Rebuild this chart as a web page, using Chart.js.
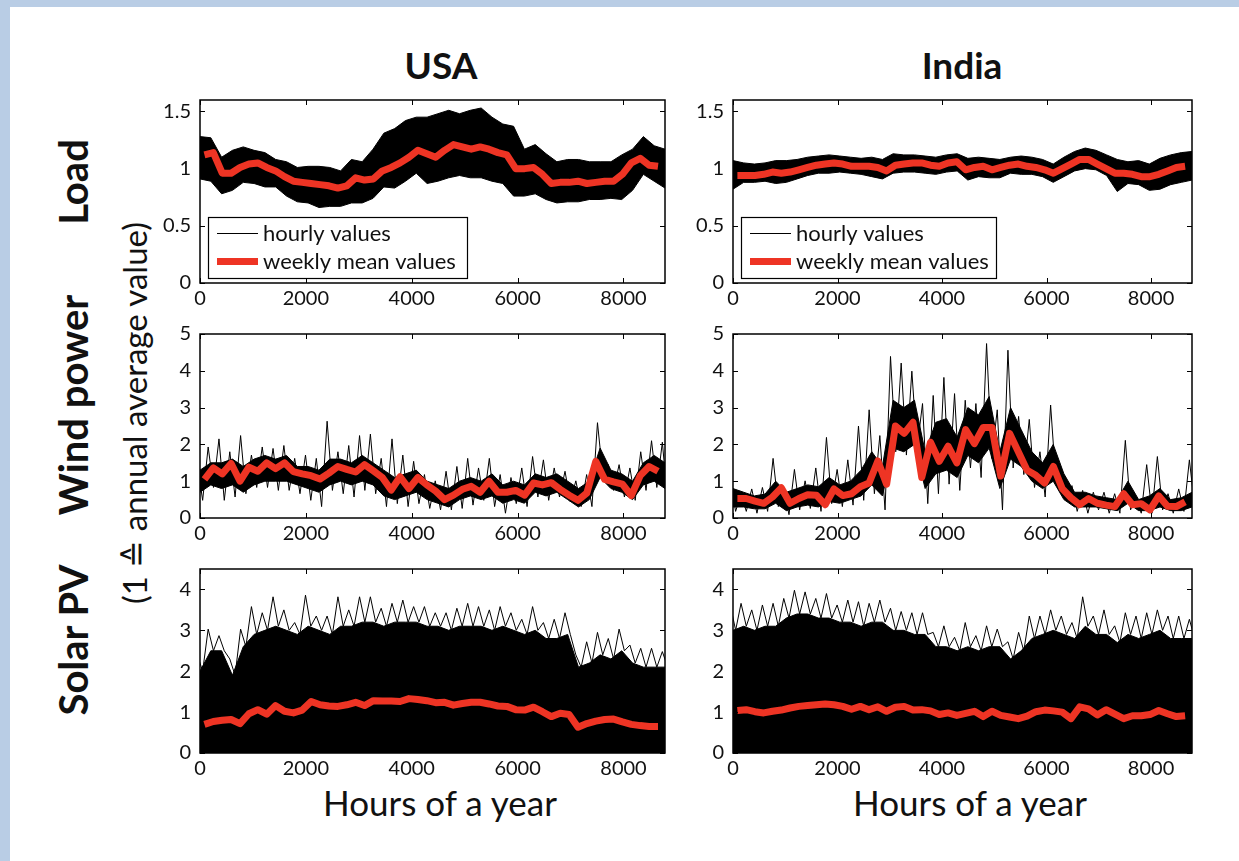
<!DOCTYPE html>
<html>
<head>
<meta charset="utf-8">
<script src="https://cdn.jsdelivr.net/npm/chart.js@4.4.1/dist/chart.umd.min.js"></script>
<style>
  html, body { margin: 0; padding: 0; background: #fff; }
  #page { position: relative; width: 1239px; height: 861px; overflow: hidden; background: #fff; font-family: Lato, sans-serif; color: #111; }
  .band-top { position: absolute; left: 0; top: 0; width: 1239px; height: 7px; background: #b9cde5; }
  .band-left { position: absolute; left: 0; top: 0; width: 10px; height: 861px; background: #b9cde5; }
  canvas { position: absolute; }
  .lbl { position: absolute; white-space: nowrap; transform: translate(-50%, -50%); line-height: 1; }
  .rot { transform: translate(-50%, -50%) rotate(-90deg); }
  .title { font-weight: 700; font-size: 37px; }
  .row { font-weight: 700; font-size: 40px; }
  .axis { font-size: 35px; }
</style>
</head>
<body>
<div id="page">
  <div class="band-top"></div>
  <div class="band-left"></div>

  <div class="lbl title" style="left:441px; top:64px;">USA</div>
  <div class="lbl title" style="left:962px; top:64px;">India</div>

  <div class="lbl row rot" style="left:73px; top:182px;">Load</div>
  <div class="lbl row rot" style="left:73px; top:405px;">Wind power</div>
  <div class="lbl row rot" style="left:73px; top:640px;">Solar PV</div>
  <div class="lbl axis rot" style="left:134px; top:413px; font-size:33px;">(1 ≙ annual average value)</div>

  <div class="lbl axis" style="left:440px; top:802px;">Hours of a year</div>
  <div class="lbl axis" style="left:970px; top:802px;">Hours of a year</div>

  <canvas id="usaLoad" width="540" height="239" style="left:140px; top:79px;"></canvas>
  <canvas id="indiaLoad" width="534" height="239" style="left:673px; top:79px;"></canvas>
  <canvas id="usaWind" width="540" height="240" style="left:140px; top:313px;"></canvas>
  <canvas id="indiaWind" width="534" height="240" style="left:673px; top:313px;"></canvas>
  <canvas id="usaSolar" width="540" height="240" style="left:140px; top:548px;"></canvas>
  <canvas id="indiaSolar" width="534" height="240" style="left:673px; top:548px;"></canvas>
</div>

<script>
// tick labels
const xTicks = [0, 2000, 4000, 6000, 8000];
const loadTicks = [0, 0.5, 1, 1.5];
const windTicks = [0, 1, 2, 3, 4, 5];
const solarTicks = [0, 1, 2, 3, 4];
const legendLabels = ['hourly values', 'weekly mean values'];

const HOURS = 8784;

// weekly means (one value per week of the year)
const usaLoadWeekly = [1.12, 1.14, 0.96, 0.96, 1.01, 1.04, 1.05, 1.01, 0.98, 0.93, 0.89, 0.88, 0.87, 0.86, 0.85, 0.83, 0.85, 0.92, 0.90, 0.91, 0.98, 1.01, 1.05, 1.10, 1.16, 1.13, 1.10, 1.16, 1.21, 1.19, 1.17, 1.19, 1.17, 1.14, 1.12, 1.00, 1.00, 1.01, 0.95, 0.87, 0.88, 0.88, 0.89, 0.87, 0.88, 0.89, 0.89, 0.95, 1.05, 1.09, 1.03, 1.02];
const indiaLoadWeekly = [0.94, 0.94, 0.94, 0.95, 0.97, 0.96, 0.97, 0.99, 1.01, 1.03, 1.04, 1.05, 1.04, 1.02, 1.02, 1.02, 1.01, 0.98, 1.03, 1.04, 1.05, 1.05, 1.03, 1.02, 1.05, 1.06, 0.99, 1.01, 1.02, 0.99, 1.01, 1.03, 1.04, 1.02, 1.01, 0.99, 0.96, 1.00, 1.04, 1.08, 1.08, 1.04, 1.00, 0.96, 0.96, 0.95, 0.93, 0.93, 0.95, 0.98, 1.01, 1.02];
const usaWindWeekly = [1.05, 1.36, 1.20, 1.48, 1.00, 1.38, 1.27, 1.50, 1.34, 1.50, 1.26, 1.20, 1.15, 1.06, 1.22, 1.40, 1.32, 1.25, 1.45, 1.28, 1.10, 0.76, 1.12, 0.80, 1.10, 0.90, 0.73, 0.50, 0.62, 0.78, 0.86, 0.70, 1.00, 0.70, 0.70, 0.75, 0.62, 0.95, 0.90, 0.96, 0.78, 0.62, 0.48, 0.68, 1.54, 1.05, 0.98, 0.92, 0.61, 1.15, 1.40, 1.27];
const indiaWindWeekly = [0.53, 0.53, 0.46, 0.40, 0.57, 0.82, 0.40, 0.53, 0.63, 0.62, 0.36, 0.79, 0.61, 0.66, 0.85, 0.95, 1.55, 0.92, 2.50, 2.30, 2.60, 1.10, 2.06, 1.54, 1.95, 1.50, 2.40, 2.02, 2.46, 2.46, 1.14, 2.30, 1.80, 1.30, 1.16, 0.95, 1.40, 0.80, 0.55, 0.36, 0.53, 0.40, 0.35, 0.31, 0.66, 0.36, 0.39, 0.22, 0.60, 0.32, 0.31, 0.44];
const usaSolarWeekly = [0.70, 0.77, 0.80, 0.82, 0.72, 0.96, 1.06, 0.95, 1.16, 1.02, 0.98, 1.05, 1.26, 1.18, 1.15, 1.14, 1.18, 1.24, 1.16, 1.28, 1.27, 1.27, 1.26, 1.33, 1.31, 1.28, 1.23, 1.24, 1.17, 1.21, 1.24, 1.24, 1.20, 1.15, 1.14, 1.06, 1.05, 1.12, 1.01, 0.89, 0.97, 0.94, 0.63, 0.72, 0.78, 0.82, 0.83, 0.76, 0.70, 0.67, 0.65, 0.65];
const indiaSolarWeekly = [1.04, 1.06, 1.01, 0.98, 1.02, 1.05, 1.10, 1.14, 1.16, 1.18, 1.20, 1.18, 1.14, 1.07, 1.14, 1.06, 1.13, 1.02, 1.12, 1.14, 1.05, 1.06, 1.03, 0.94, 0.98, 0.92, 0.97, 1.02, 0.89, 1.02, 0.92, 0.88, 0.84, 0.90, 1.01, 1.05, 1.03, 1.00, 0.84, 1.13, 1.08, 0.93, 1.06, 0.95, 0.84, 0.91, 0.91, 0.94, 1.04, 0.96, 0.89, 0.91];

// hourly values, read over 44 equal slices of the year:
// Hi / Lo = extreme peaks and dips, CoreHi / CoreLo = where the trace is densest
const usaLoadHi = [1.28, 1.27, 1.10, 1.16, 1.19, 1.16, 1.14, 1.08, 1.06, 1.01, 1.02, 1.02, 1.01, 0.98, 1.08, 1.06, 1.17, 1.31, 1.35, 1.42, 1.45, 1.45, 1.48, 1.51, 1.48, 1.51, 1.53, 1.45, 1.39, 1.37, 1.17, 1.21, 1.13, 1.06, 1.08, 1.08, 1.06, 1.06, 1.06, 1.12, 1.17, 1.28, 1.20, 1.17];
const usaLoadLo = [0.91, 0.89, 0.78, 0.81, 0.88, 0.87, 0.84, 0.84, 0.76, 0.71, 0.70, 0.66, 0.67, 0.67, 0.70, 0.70, 0.74, 0.84, 0.83, 0.89, 0.96, 0.87, 0.89, 0.92, 0.94, 0.92, 0.92, 0.89, 0.87, 0.76, 0.76, 0.78, 0.73, 0.70, 0.71, 0.71, 0.73, 0.73, 0.74, 0.73, 0.81, 0.95, 0.89, 0.83];
const indiaLoadHi = [1.07, 1.05, 1.04, 1.05, 1.07, 1.07, 1.08, 1.10, 1.11, 1.12, 1.11, 1.10, 1.09, 1.10, 1.08, 1.13, 1.12, 1.12, 1.11, 1.10, 1.12, 1.13, 1.09, 1.10, 1.09, 1.08, 1.10, 1.11, 1.10, 1.08, 1.04, 1.10, 1.15, 1.18, 1.16, 1.12, 1.08, 1.06, 1.07, 1.04, 1.09, 1.12, 1.14, 1.15];
const indiaLoadLo = [0.82, 0.88, 0.88, 0.89, 0.87, 0.88, 0.91, 0.94, 0.96, 0.96, 0.97, 0.96, 0.95, 0.93, 0.91, 0.96, 0.97, 0.97, 0.96, 0.95, 0.97, 0.98, 0.90, 0.93, 0.92, 0.92, 0.96, 0.95, 0.95, 0.93, 0.88, 0.93, 0.98, 1.00, 0.99, 0.94, 0.80, 0.87, 0.86, 0.81, 0.82, 0.86, 0.88, 0.90];

const usaWindHi = [1.45, 1.93, 2.15, 1.80, 2.24, 1.71, 1.93, 1.89, 1.97, 1.62, 1.71, 1.62, 2.63, 1.80, 1.97, 2.24, 2.28, 1.62, 2.15, 1.71, 1.54, 1.18, 1.01, 1.27, 1.40, 1.62, 1.36, 1.62, 1.18, 1.10, 1.36, 1.67, 1.58, 1.36, 1.27, 1.01, 1.18, 2.59, 1.45, 1.45, 1.36, 1.80, 2.10, 2.06];
const usaWindLo = [0.48, 0.83, 0.48, 0.57, 0.66, 0.83, 0.83, 0.75, 0.75, 0.66, 0.48, 0.31, 0.75, 0.66, 0.57, 0.75, 0.66, 0.31, 0.39, 0.31, 0.39, 0.26, 0.22, 0.22, 0.26, 0.35, 0.48, 0.31, 0.13, 0.39, 0.31, 0.57, 0.48, 0.57, 0.44, 0.31, 0.31, 1.18, 0.75, 0.57, 0.48, 0.75, 0.83, 0.44];
const usaWindCoreHi = [1.3, 1.5, 1.5, 1.6, 1.4, 1.6, 1.7, 1.6, 1.7, 1.4, 1.4, 1.3, 1.6, 1.6, 1.5, 1.7, 1.5, 1.3, 1.1, 1.2, 1.3, 1.0, 0.9, 0.8, 1.0, 1.1, 1.0, 1.2, 0.9, 1.0, 0.9, 1.2, 1.1, 1.2, 1.0, 0.8, 1.0, 1.9, 1.3, 1.2, 1.0, 1.5, 1.7, 1.5];
const usaWindCoreLo = [0.7, 0.9, 0.8, 0.9, 0.7, 0.9, 1.0, 1.0, 1.0, 0.9, 0.8, 0.7, 0.9, 1.0, 0.9, 1.0, 0.9, 0.6, 0.5, 0.6, 0.7, 0.5, 0.4, 0.3, 0.5, 0.6, 0.5, 0.6, 0.4, 0.5, 0.4, 0.7, 0.6, 0.7, 0.5, 0.3, 0.5, 1.1, 0.8, 0.7, 0.5, 0.9, 1.0, 0.8];
const indiaWindHi = [1.01, 0.66, 0.79, 0.83, 1.62, 0.83, 1.32, 1.01, 1.36, 2.19, 1.32, 1.58, 2.50, 2.94, 2.24, 4.39, 4.21, 3.99, 3.11, 3.33, 3.82, 3.38, 3.20, 3.11, 4.74, 2.94, 4.56, 2.76, 2.68, 1.80, 3.07, 1.36, 0.88, 0.75, 0.70, 0.70, 0.66, 2.11, 0.57, 1.45, 1.67, 0.66, 0.79, 1.58];
const indiaWindLo = [0.18, 0.18, 0.13, 0.18, 0.31, 0.09, 0.22, 0.26, 0.18, 0.39, 0.31, 0.35, 0.48, 0.66, 0.22, 1.80, 1.71, 1.89, 0.39, 0.66, 0.92, 0.75, 1.36, 1.10, 1.62, 0.22, 1.36, 1.18, 0.83, 0.57, 1.01, 0.48, 0.18, 0.13, 0.22, 0.13, 0.13, 0.22, 0.13, 0.13, 0.22, 0.13, 0.18, 0.31];
const indiaWindCoreHi = [0.8, 0.7, 0.6, 0.65, 1.0, 0.7, 0.8, 0.9, 0.85, 1.1, 0.9, 1.0, 1.3, 1.8, 1.4, 3.2, 3.0, 3.2, 1.8, 2.6, 2.7, 2.2, 3.0, 2.8, 3.3, 1.8, 3.0, 2.4, 1.8, 1.5, 2.0, 1.2, 0.7, 0.7, 0.6, 0.55, 0.5, 1.0, 0.5, 0.6, 0.8, 0.5, 0.55, 0.7];
const indiaWindCoreLo = [0.3, 0.3, 0.25, 0.25, 0.4, 0.2, 0.3, 0.35, 0.3, 0.45, 0.4, 0.5, 0.6, 0.9, 0.6, 1.9, 1.8, 2.0, 0.8, 1.2, 1.3, 1.1, 1.7, 1.5, 1.9, 0.8, 1.6, 1.4, 1.0, 0.8, 1.0, 0.5, 0.3, 0.3, 0.3, 0.25, 0.2, 0.4, 0.2, 0.2, 0.3, 0.2, 0.2, 0.3];

const usaSolarHi = [2.40, 3.03, 2.87, 2.30, 3.03, 3.58, 3.43, 3.82, 3.50, 3.19, 3.86, 3.35, 3.35, 3.82, 3.50, 3.82, 3.82, 3.54, 3.66, 3.74, 3.58, 3.58, 3.43, 3.43, 3.54, 3.66, 3.58, 3.50, 3.58, 3.43, 3.27, 3.58, 3.19, 3.27, 3.43, 2.40, 2.72, 2.95, 2.80, 3.03, 2.64, 2.56, 2.56, 2.48];
const usaSolarCore = [2.0, 2.5, 2.5, 1.9, 2.6, 2.9, 3.0, 3.1, 3.0, 2.9, 3.1, 3.0, 2.9, 3.1, 3.1, 3.2, 3.2, 3.1, 3.2, 3.2, 3.2, 3.1, 3.1, 3.0, 3.1, 3.1, 3.1, 3.0, 3.1, 3.0, 2.9, 3.0, 2.8, 2.8, 2.9, 2.1, 2.2, 2.4, 2.3, 2.5, 2.2, 2.1, 2.1, 2.1];
const indiaSolarHi = [3.62, 3.66, 3.50, 3.62, 3.66, 3.78, 3.98, 3.94, 3.78, 3.90, 3.62, 3.74, 3.70, 3.66, 3.74, 3.54, 3.46, 3.43, 3.43, 2.95, 3.11, 2.83, 3.19, 2.87, 3.11, 3.03, 2.72, 2.95, 3.35, 3.35, 3.50, 3.35, 3.19, 3.82, 3.35, 3.50, 3.11, 3.43, 3.35, 3.43, 3.50, 3.35, 3.35, 3.27];
const indiaSolarCore = [3.0, 3.1, 3.0, 3.1, 3.1, 3.3, 3.4, 3.4, 3.3, 3.3, 3.2, 3.2, 3.1, 3.2, 3.2, 3.0, 3.0, 2.9, 2.9, 2.6, 2.6, 2.5, 2.6, 2.5, 2.6, 2.6, 2.3, 2.5, 2.8, 2.9, 3.0, 2.9, 2.8, 3.1, 2.9, 2.9, 2.7, 2.9, 2.8, 2.9, 3.0, 2.8, 2.8, 2.8];

const RED = '#ee3424';

const weekHours = usaLoadWeekly.map((_, k) => 84 + 168 * k);
const sliceHours = usaLoadHi.map((_, i) => i * HOURS / (usaLoadHi.length - 1));

const pts = (xs, ys) => ys.map((y, i) => ({ x: xs[i], y }));

// MATLAB-like box with inward ticks on all four sides
const frame = {
  id: 'frame',
  afterDatasetsDraw(chart) {
    const { ctx, chartArea: a, scales: { x, y } } = chart;
    ctx.save();
    ctx.strokeStyle = '#000';
    ctx.lineWidth = 1;
    ctx.beginPath();
    x.ticks.forEach(t => {
      const px = Math.round(x.getPixelForValue(t.value)) + 0.5;
      ctx.moveTo(px, a.bottom); ctx.lineTo(px, a.bottom - 5);
      ctx.moveTo(px, a.top); ctx.lineTo(px, a.top + 5);
    });
    y.ticks.forEach(t => {
      const py = Math.round(y.getPixelForValue(t.value)) + 0.5;
      ctx.moveTo(a.left, py); ctx.lineTo(a.left + 5, py);
      ctx.moveTo(a.right, py); ctx.lineTo(a.right - 5, py);
    });
    ctx.stroke();
    ctx.lineWidth = 1.5;
    ctx.strokeRect(a.left, a.top, a.right - a.left, a.bottom - a.top);
    ctx.restore();
  }
};

const boxLegend = {
  id: 'boxLegend',
  afterDraw(chart, args, opts) {
    if (!opts.show) return;
    const { ctx, chartArea: a } = chart;
    const x0 = a.left + 8, y0 = a.bottom - 66, w = opts.width, h = 61;
    ctx.save();
    ctx.fillStyle = '#fff';
    ctx.fillRect(x0, y0, w, h);
    ctx.strokeStyle = '#000';
    ctx.lineWidth = 1.2;
    ctx.strokeRect(x0 + 0.5, y0 + 0.5, w, h);
    ctx.beginPath();
    ctx.lineWidth = 1;
    ctx.moveTo(x0 + 9, y0 + 16.5); ctx.lineTo(x0 + 50, y0 + 16.5);
    ctx.stroke();
    ctx.beginPath();
    ctx.lineWidth = 7;
    ctx.strokeStyle = RED;
    ctx.moveTo(x0 + 9, y0 + 44.5); ctx.lineTo(x0 + 50, y0 + 44.5);
    ctx.stroke();
    ctx.fillStyle = '#111';
    ctx.font = '22px Lato';
    ctx.textBaseline = 'middle';
    ctx.fillText(legendLabels[0], x0 + 55, y0 + 17);
    ctx.fillText(legendLabels[1], x0 + 55, y0 + 45);
    ctx.restore();
  }
};

Chart.register(frame, boxLegend);
Chart.defaults.font.family = 'Lato';

const thin = { borderColor: '#000', borderWidth: 1, pointRadius: 0, fill: false };

function weeklySet(values) {
  return { data: pts(weekHours, values), borderColor: RED, borderWidth: 7, pointRadius: 0,
           borderJoinStyle: 'round', fill: false, order: 0 };
}

// filled band between two envelopes (uses dataset index order: upper first, lower right after)
function band(upper, lower, order) {
  return [
    { ...thin, data: pts(sliceHours, upper), order },
    { ...thin, data: pts(sliceHours, lower), fill: '-1', backgroundColor: '#000', order: order + 1 }
  ];
}

// peaks and dips of the hourly trace drawn as a thin saw line
function zigzag(up, down, order) {
  const data = [];
  sliceHours.forEach((h, i) => {
    data.push({ x: h - 50, y: up[i] });
    data.push({ x: h + 50, y: down[i] });
  });
  return { ...thin, data, order };
}

function area(top, order) {
  return { ...thin, data: pts(sliceHours, top), fill: 'origin', backgroundColor: '#000', order };
}

function panel(id, datasets, ymax, yTicks, legendWidth) {
  new Chart(document.getElementById(id), {
    type: 'line',
    data: { datasets },
    options: {
      responsive: false,
      animation: false,
      events: [],
      layout: { padding: { top: 15, right: 15, left: 0, bottom: 0 } },
      plugins: {
        legend: { display: false },
        tooltip: { enabled: false },
        boxLegend: { show: !!legendWidth, width: legendWidth || 0 }
      },
      scales: {
        x: {
          type: 'linear', min: 0, max: HOURS,
          grid: { display: false, drawTicks: false },
          border: { display: false },
          afterBuildTicks: s => { s.ticks = xTicks.map(v => ({ value: v })); },
          afterFit: s => { s.height = 35; },
          ticks: { color: '#111', font: { size: 20 }, padding: 4, maxRotation: 0, autoSkip: false,
                   callback: v => String(v) }
        },
        y: {
          min: 0, max: ymax,
          grid: { display: false, drawTicks: false },
          border: { display: false },
          afterBuildTicks: s => { s.ticks = yTicks.map(v => ({ value: v })); },
          afterFit: s => { s.width = 60; },
          ticks: { color: '#111', font: { size: 20 }, padding: 9, callback: v => String(v) }
        }
      }
    }
  });
}

panel('usaLoad', [weeklySet(usaLoadWeekly), ...band(usaLoadHi, usaLoadLo, 1)], 1.6, loadTicks, 259);
panel('indiaLoad', [weeklySet(indiaLoadWeekly), ...band(indiaLoadHi, indiaLoadLo, 1)], 1.6, loadTicks, 255);
panel('usaWind', [weeklySet(usaWindWeekly), zigzag(usaWindHi, usaWindLo, 1),
                  ...band(usaWindCoreHi, usaWindCoreLo, 2)], 5, windTicks);
panel('indiaWind', [weeklySet(indiaWindWeekly), zigzag(indiaWindHi, indiaWindLo, 1),
                    ...band(indiaWindCoreHi, indiaWindCoreLo, 2)], 5, windTicks);
panel('usaSolar', [weeklySet(usaSolarWeekly), zigzag(usaSolarHi, usaSolarCore, 1),
                   area(usaSolarCore, 2)], 4.5, solarTicks);
panel('indiaSolar', [weeklySet(indiaSolarWeekly), zigzag(indiaSolarHi, indiaSolarCore, 1),
                     area(indiaSolarCore, 2)], 4.5, solarTicks);
</script>
</body>
</html>
